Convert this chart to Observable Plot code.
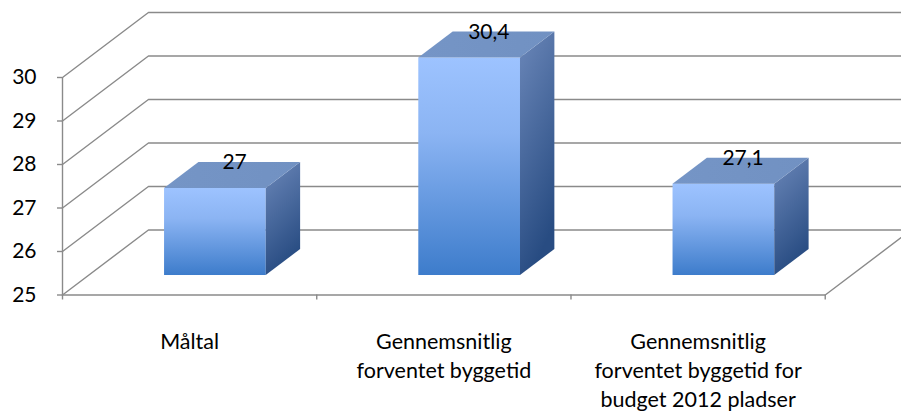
<!DOCTYPE html>
<html><head><meta charset="utf-8">
<script src="https://cdn.jsdelivr.net/npm/d3@7"></script>
<script src="https://cdn.jsdelivr.net/npm/@observablehq/plot@0.6"></script>
<style>body{margin:0;background:#fff;}</style>
</head><body><div id="chart"></div>
<script>
const categories = ["Måltal", "Gennemsnitlig\nforventet byggetid", "Gennemsnitlig\nforventet byggetid for\nbudget 2012 pladser"];
const values = [27, 30.4, 27.1];
const valueLabels = ["27", "30,4", "27,1"];
const yTicks = [25, 26, 27, 28, 29, 30];
const xTicks = [0, 1, 2, 3];

const Y0 = 25, YMAX = 30;
const DX = 0.338, DY = 1.494;   // full depth offset expressed in data units
const BW = 0.4, D0 = 0.3, D1 = 0.7;
const GRID = "#8a8a8a";

const bars = values.map((v, i) => {
  const h = Math.min(v, YMAX);
  return {i, v, h, label: valueLabels[i], x0: i + 0.5 - BW / 2, x1: i + 0.5 + BW / 2};
});

const topPts = bars.flatMap(b => [
  {i: b.i, x: b.x0 + D0 * DX, y1: b.h + D0 * DY, y2: b.h + D0 * DY},
  {i: b.i, x: b.x0 + D1 * DX, y1: b.h + D0 * DY, y2: b.h + D1 * DY},
  {i: b.i, x: b.x1 + D0 * DX, y1: b.h + D0 * DY, y2: b.h + D1 * DY},
  {i: b.i, x: b.x1 + D1 * DX, y1: b.h + D1 * DY, y2: b.h + D1 * DY}
]);
const sidePts = bars.flatMap(b => [
  {i: b.i, x: b.x1 + D0 * DX, y1: Y0 + D0 * DY, y2: b.h + D0 * DY},
  {i: b.i, x: b.x1 + D1 * DX, y1: Y0 + D1 * DY, y2: b.h + D1 * DY}
]);
const sx0 = -0.06, sx1 = 0.05, sd0 = 0.27, sd1 = 0.74;
const shadowPts = bars.flatMap(b => [
  {i: b.i, x: b.x0 + sx0 + sd0 * DX, y1: Y0 + sd0 * DY, y2: Y0 + sd0 * DY},
  {i: b.i, x: b.x0 + sx0 + sd1 * DX, y1: Y0 + sd0 * DY, y2: Y0 + sd1 * DY},
  {i: b.i, x: b.x1 + sx1 + sd0 * DX, y1: Y0 + sd0 * DY, y2: Y0 + sd1 * DY},
  {i: b.i, x: b.x1 + sx1 + sd1 * DX, y1: Y0 + sd1 * DY, y2: Y0 + sd1 * DY}
]);

const gridPts = yTicks.flatMap(v => [
  {v, x: 0, y: v},
  {v, x: DX, y: v + DY},
  {v, x: 3.6, y: v + DY}
]);
const floorPts = [{x: 0, y: Y0}, {x: 3, y: Y0}, {x: 3 + DX, y: Y0 + DY}];

const plot = Plot.plot({
  width: 901,
  height: 416,
  marginLeft: 62,
  marginRight: 0,
  marginTop: 11.75,
  marginBottom: 121.5,
  x: {domain: [0, 3.3], label: null},
  y: {domain: [25, 31.5], label: null},
  style: {fontFamily: "Lato, 'Open Sans', sans-serif", fontSize: "20px", background: "#fff", overflow: "visible"},
  marks: [
    Plot.line(gridPts, {x: "x", y: "y", z: "v", stroke: GRID, strokeWidth: 1.4}),
    Plot.line(floorPts, {x: "x", y: "y", stroke: GRID, strokeWidth: 1.4}),
    Plot.ruleX([0], {y1: Y0, y2: YMAX, stroke: GRID, strokeWidth: 1.4}),
    Plot.areaY(shadowPts, {x: "x", y1: "y1", y2: "y2", z: "i", fill: "#000", fillOpacity: 0.35, curve: "linear", ariaLabel: "shadow"}),
    Plot.rect(bars, {x1: b => b.x0 + D0 * DX, x2: b => b.x1 + D0 * DX, y1: Y0 + D0 * DY, y2: b => b.h + D0 * DY, fill: "url(#frontGrad)"}),
    Plot.areaY(sidePts, {x: "x", y1: "y1", y2: "y2", z: "i", fill: "url(#sideGrad)", curve: "linear"}),
    Plot.areaY(topPts, {x: "x", y1: "y1", y2: "y2", z: "i", fill: "url(#topGrad)", curve: "linear"}),
    Plot.axisX(xTicks, {tickSize: 5, tickFormat: () => "", stroke: GRID, strokeWidth: 1.4, label: null}),
    Plot.axisY(yTicks, {tickSize: 5, tickFormat: () => "", stroke: GRID, strokeWidth: 1.4, label: null}),
    Plot.axisY(yTicks, {tickSize: 0, tickPadding: 26, fontSize: 21, fill: "#000", tickFormat: d => String(d), label: null}),
    Plot.text(bars, {x: b => b.i + 0.5 + 0.5 * DX, y: b => b.h + D1 * DY, dx: 2, text: "label", fontSize: 21, fill: "#000", lineAnchor: "middle"}),
    Plot.text(categories, {x: (d, i) => i + 0.5, y: Y0, text: d => d, dy: 33, lineAnchor: "top", lineHeight: 1.36, fontSize: 21.5, fill: "#000", textAnchor: "middle"})
  ]
});

const svg = d3.select(plot);
const defs = svg.insert("defs", ":first-child");
const fg = defs.append("linearGradient").attr("id", "frontGrad").attr("x1", 0).attr("y1", 0).attr("x2", 0).attr("y2", 1);
fg.append("stop").attr("offset", "0%").attr("stop-color", "#9dc3ff");
fg.append("stop").attr("offset", "35%").attr("stop-color", "#8bb4f3");
fg.append("stop").attr("offset", "100%").attr("stop-color", "#3d7ccb");
const sg = defs.append("linearGradient").attr("id", "sideGrad").attr("x1", 0).attr("y1", 0).attr("x2", 0.3).attr("y2", 1);
sg.append("stop").attr("offset", "0%").attr("stop-color", "#6b87b9");
sg.append("stop").attr("offset", "100%").attr("stop-color", "#284c82");
const tg = defs.append("linearGradient").attr("id", "topGrad").attr("x1", 0).attr("y1", 0).attr("x2", 1).attr("y2", 0);
tg.append("stop").attr("offset", "0%").attr("stop-color", "#7595c6");
tg.append("stop").attr("offset", "100%").attr("stop-color", "#7191c2");
const flt = defs.append("filter").attr("id", "blur").attr("x", "-20%").attr("y", "-50%").attr("width", "140%").attr("height", "200%");
flt.append("feGaussianBlur").attr("stdDeviation", 3);
svg.select('g[aria-label="shadow"]').attr("filter", "url(#blur)");

document.getElementById("chart").appendChild(plot);
</script>
</body></html>
